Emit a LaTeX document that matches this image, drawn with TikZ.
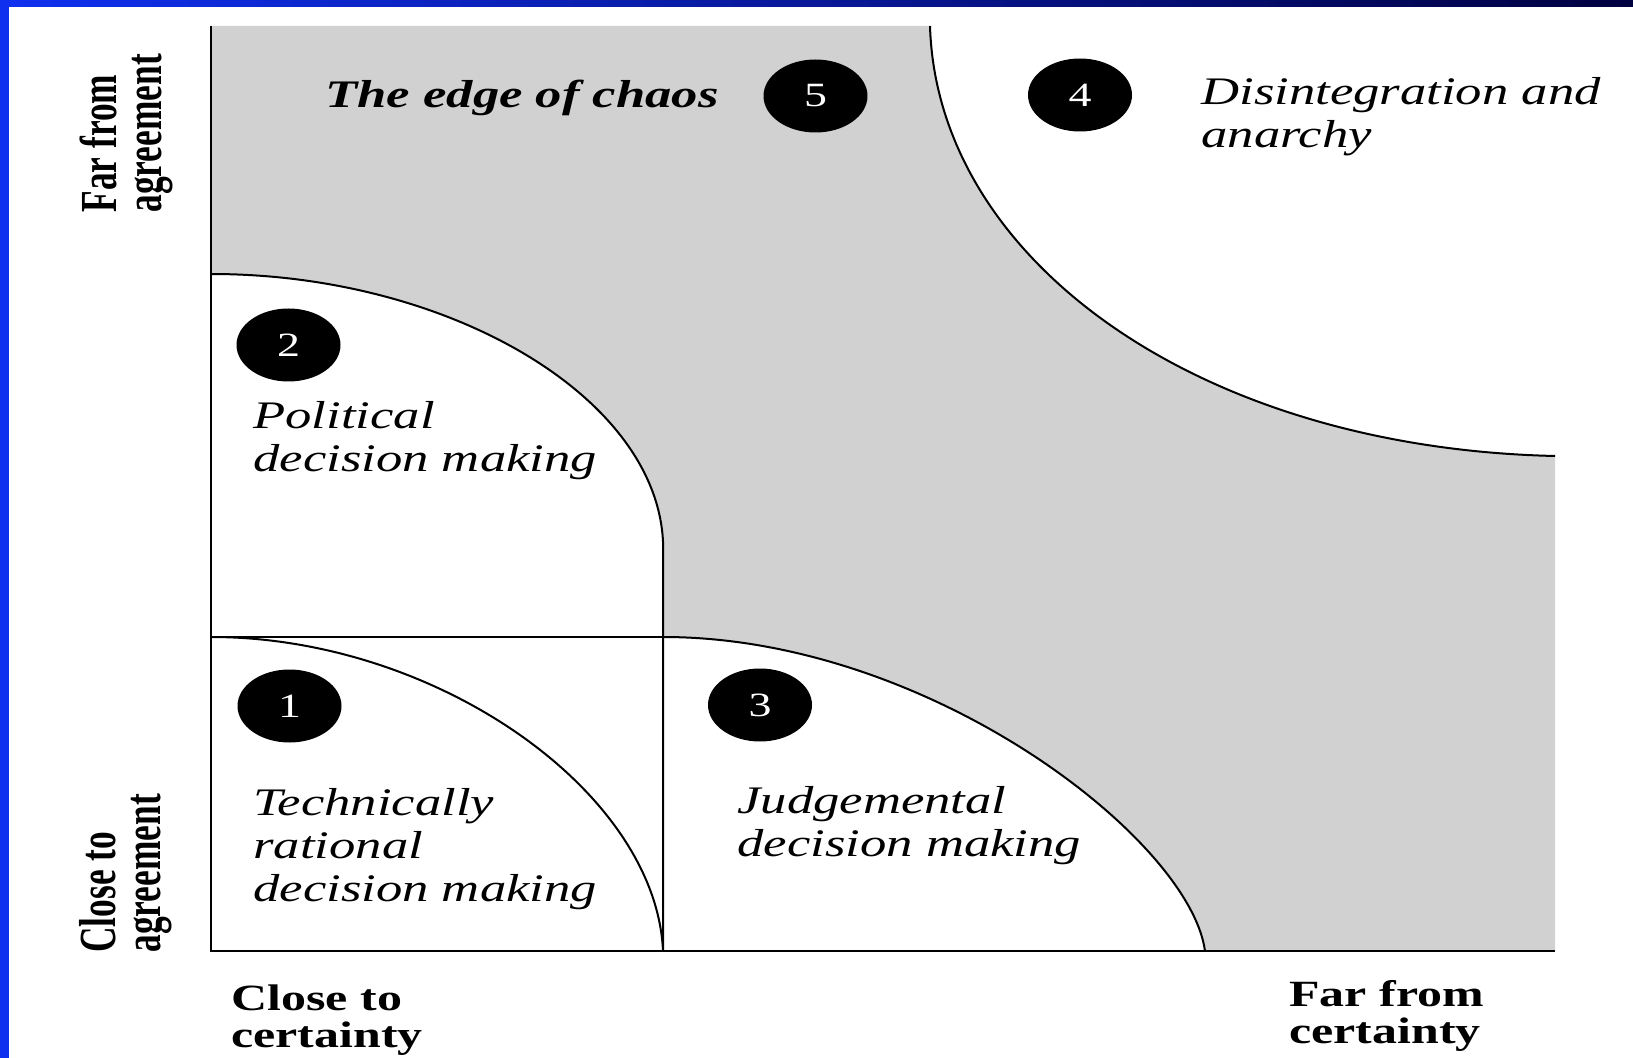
\documentclass[tikz,border=0pt]{standalone}
\usepackage{fontspec}
\setmainfont{Liberation Serif}
\newfontfamily\widefont[FakeStretch=1.35]{Liberation Serif}
\newfontfamily\tallfont[FakeStretch=0.68]{Liberation Serif}
\usetikzlibrary{shapes.geometric}
\definecolor{slideBlue}{HTML}{1030F0}
\definecolor{slideNavy}{HTML}{000040}

\begin{document}
\begin{tikzpicture}[x=0.5pt, y=-0.5pt,
  badge/.style={ellipse, fill=black, text=white, minimum width=52pt, minimum height=36.5pt, inner sep=0pt, font=\widefont\fontsize{17}{17}\selectfont},
  region/.style={anchor=base west, align=left, inner sep=0pt, font=\widefont\itshape\fontsize{19.5}{21.5}\selectfont},
  xaxis/.style={anchor=base west, align=left, inner sep=0pt, font=\widefont\bfseries\fontsize{18.5}{18.5}\selectfont},
  yaxis/.style={rotate=90, anchor=west, align=left, inner sep=0pt, font=\tallfont\bfseries\fontsize{26}{22.5}\selectfont},
  bound/.style={line width=1pt},
]
\useasboundingbox (0,0) rectangle (1633,1058);
% slide frame
\shade[left color=slideBlue, right color=slideNavy] (0,0) rectangle (1633,7);
\fill[slideBlue] (0,0) rectangle (9,1058);
% ---- stippled zone ----
\fill[black!18] (211,26) -- (930,26) .. controls (937,260) and (1198,448) .. (1555,456)
  -- (1555,951) -- (1205,951) .. controls (1190,840) and (930,637) .. (663,637)
  -- (663,541.6) .. controls (656,396) and (448,274) .. (211,274) -- cycle;
% ---- zone boundaries ----
\draw[bound] (930,26) .. controls (937,260) and (1198,448) .. (1555,456);
\draw[bound] (663,637) .. controls (930,637) and (1190,840) .. (1205,951);
\draw[bound] (211,274) .. controls (448,274) and (656,396) .. (663,541.6) -- (663,951);
\draw[bound] (211,637) .. controls (437,637) and (656,792) .. (663,951);
\draw[bound] (211,637) -- (663,637);
\draw[line width=1.2pt] (211,26) -- (211,951) -- (1555,951);
% ---- numbered badges ----
\node[badge] (b1) at (289.5,706) {1};
\node[badge] (b2) at (288.5,345) {2};
\node[badge] (b3) at (760,705) {3};
\node[badge] (b4) at (1080,95) {4};
\node[badge] (b5) at (815.5,96) {5};
% ---- zone labels (anchored on the last line) ----
\node[region, font=\widefont\bfseries\itshape\fontsize{19.5}{21.5}\selectfont] (chaos) at (325,108) {The edge of chaos};
\node[region] (anarchy) at (1201,148) {Disintegration and\\anarchy};
\node[region] (political) at (253,472) {Political\\decision making};
\node[region] (technical) at (253,901) {Technically\\rational\\decision making};
\node[region] (judgement) at (737,856) {Judgemental\\decision making};
% ---- axes ----
\node[xaxis] (closecert) at (231,1047) {Close to\\certainty};
\node[xaxis] (farcert) at (1289,1043) {Far from\\certainty};
\node[yaxis] (faragree) at (126,213) {Far from\\agreement};
\node[yaxis] (closeagree) at (126,953) {Close to\\agreement};
\end{tikzpicture}
\end{document}
